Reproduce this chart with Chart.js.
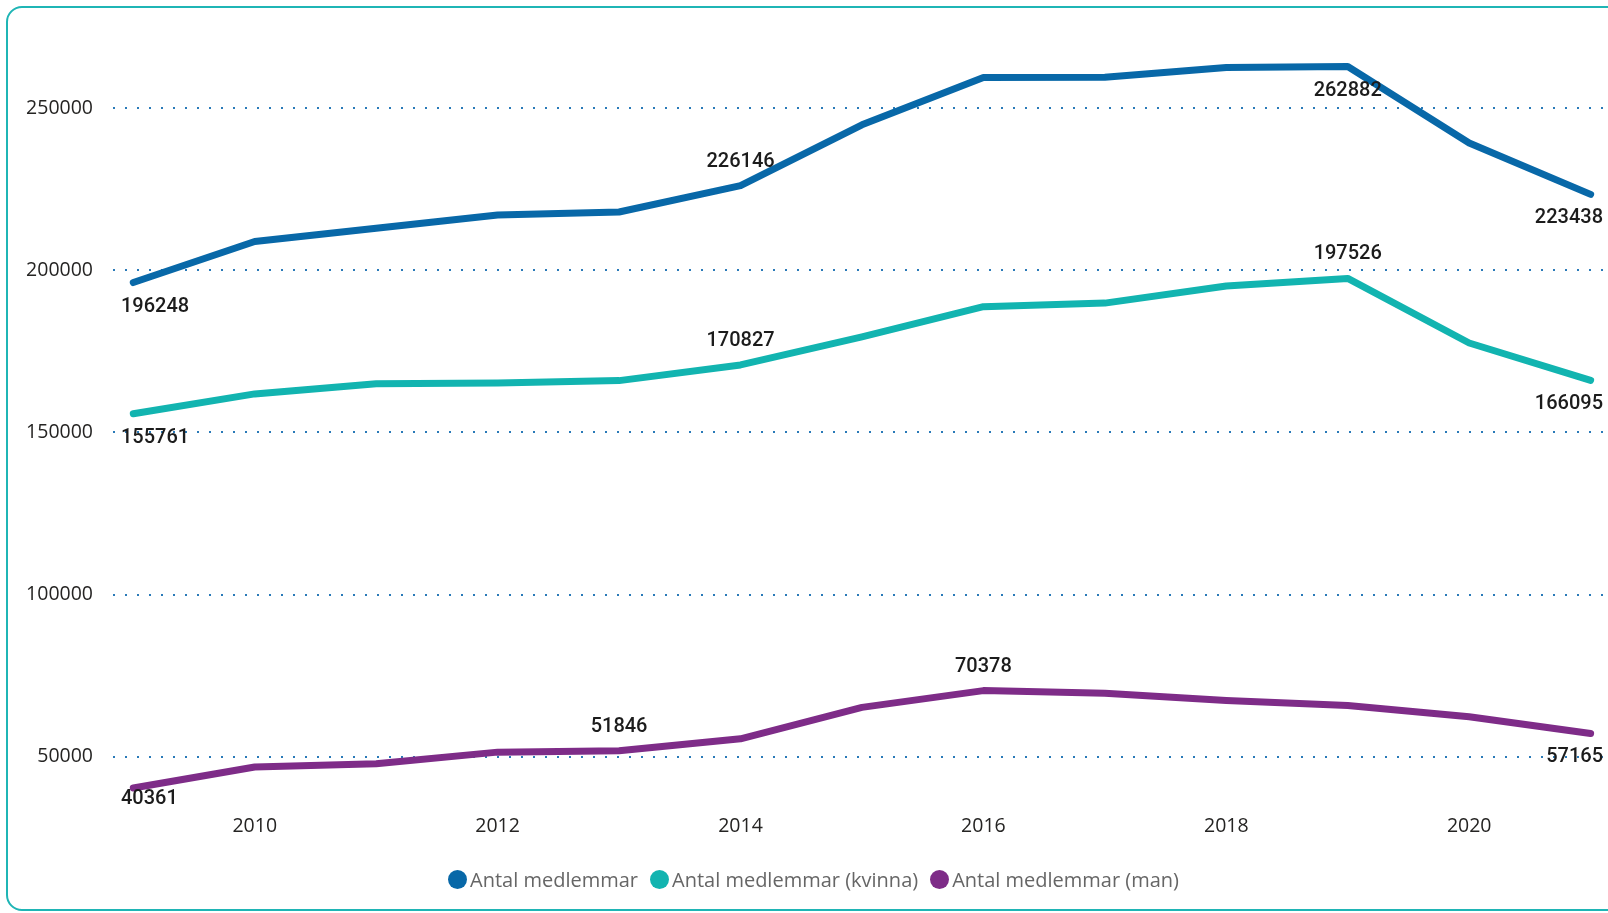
<!DOCTYPE html>
<html>
<head>
<meta charset="utf-8">
<script src="https://cdn.jsdelivr.net/npm/chart.js@4.4.1/dist/chart.umd.min.js"></script>
<style>
html,body{margin:0;padding:0;background:#fff;overflow:hidden;width:1608px;height:913px;}
#frame{position:absolute;left:6px;top:6px;width:1660px;height:905px;border:2px solid #1fb5b5;border-radius:16px;box-sizing:border-box;}
#wrap{position:absolute;left:0;top:0;width:1608px;height:913px;}
#legend{position:absolute;left:448px;top:866px;display:flex;align-items:center;font-family:"Open Sans",sans-serif;font-size:20px;color:#666666;white-space:nowrap;}
.item{display:flex;align-items:center;margin-right:12px;}
.dot{display:inline-block;width:19px;height:19px;border-radius:50%;margin-right:3px;}
</style>
</head>
<body>
<div id="frame"></div>
<div id="wrap"><canvas id="c" width="1608" height="913"></canvas></div>
<div id="legend"></div>
<script>
const years = [2009,2010,2011,2012,2013,2014,2015,2016,2017,2018,2019,2020,2021];
const totalMembers = [196248,208900,213000,217100,218000,226146,244900,259500,259600,262600,262882,239300,223438];
const womenMembers = [155761,161900,165000,165300,166000,170827,179500,188800,189900,195200,197526,177600,166095];
const menMembers   = [40361,46800,47800,51400,51846,55500,65200,70378,69550,67300,65800,62300,57165];
const yTicks = [50000,100000,150000,200000,250000];
const xTicks = [2010,2012,2014,2016,2018,2020];
const seriesNames = ["Antal medlemmar","Antal medlemmar (kvinna)","Antal medlemmar (man)"];
const seriesColors = ["#0868A8","#12B4B0","#7E2C88"];
const totalLabelIdx = [0,5,10,12];
const totalLabelSide = ["below","above","below","below"];
const womenLabelIdx = [0,5,10,12];
const womenLabelSide = ["below","above","above","below"];
const menLabelIdx = [0,4,7,12];
const menLabelSide = ["below","above","above","below"];

function pts(arr){ return years.map((y,i)=>({x:y,y:arr[i]})); }

const valueLabels = {
  id:'valueLabels',
  afterDatasetsDraw(chart){
    const ctx = chart.ctx, ca = chart.chartArea;
    ctx.save();
    ctx.font = '500 20px Roboto';
    ctx.fillStyle = '#1c1c1c';
    ctx.textAlign = 'center';
    ctx.textBaseline = 'middle';
    chart.data.datasets.forEach((ds,di)=>{
      const meta = chart.getDatasetMeta(di);
      ds.labelIdx.forEach((idx,k)=>{
        const p = meta.data[idx];
        const txt = String(ds.data[idx].y);
        const w = ctx.measureText(txt).width;
        const x = Math.max(ca.left + 8 + w/2, Math.min(chart.width - 5 - w/2, p.x));
        let y = p.y + (ds.labelSide[k] === 'above' ? -24 : 24);
        y = Math.min(y, ca.bottom + 4);
        ctx.fillText(txt, x, y);
      });
    });
    ctx.restore();
  }
};

const lists = [totalMembers, womenMembers, menMembers];
const idxs = [totalLabelIdx, womenLabelIdx, menLabelIdx];
const sides = [totalLabelSide, womenLabelSide, menLabelSide];

new Chart(document.getElementById('c'), {
  type:'line',
  data:{
    datasets: lists.map((arr,i)=>({
      label: seriesNames[i],
      data: pts(arr),
      borderColor: seriesColors[i],
      backgroundColor: seriesColors[i],
      borderWidth: 7,
      pointRadius: 0,
      pointHoverRadius: 0,
      tension: 0,
      borderCapStyle: 'round',
      borderJoinStyle: 'round',
      labelIdx: idxs[i],
      labelSide: sides[i]
    }))
  },
  options:{
    responsive:false,
    animation:false,
    layout:{padding:{left:0,right:0,top:40,bottom:68}},
    plugins:{legend:{display:false},tooltip:{enabled:false}},
    scales:{
      x:{
        type:'linear',
        min:2008.833, max:2021.143,
        grid:{display:false, drawTicks:false},
        border:{display:false},
        afterBuildTicks(s){ s.ticks = xTicks.map(v=>({value:v})); },
        afterFit(s){ s.height = 50; },
        ticks:{padding:20, color:'#252423', font:{family:'Open Sans', size:19.5}, maxRotation:0, autoSkip:false, callback:v=>String(v)}
      },
      y:{
        min:38180, max:271060,
        grid:{color:'#2A7AB8', lineWidth:2, drawTicks:false},
        border:{display:false, dash:[2,10]},
        afterBuildTicks(s){ s.ticks = yTicks.map(v=>({value:v})); },
        afterFit(s){ s.width = 113; },
        ticks:{padding:20, color:'#252423', font:{family:'Open Sans', size:19.5}, callback:v=>String(v)}
      }
    }
  },
  plugins:[valueLabels]
});

const lg = document.getElementById('legend');
seriesNames.forEach((n,i)=>{
  const it = document.createElement('div'); it.className='item';
  const d = document.createElement('span'); d.className='dot'; d.style.background = seriesColors[i];
  const t = document.createElement('span'); t.textContent = n;
  it.appendChild(d); it.appendChild(t); lg.appendChild(it);
});
</script>
</body>
</html>
